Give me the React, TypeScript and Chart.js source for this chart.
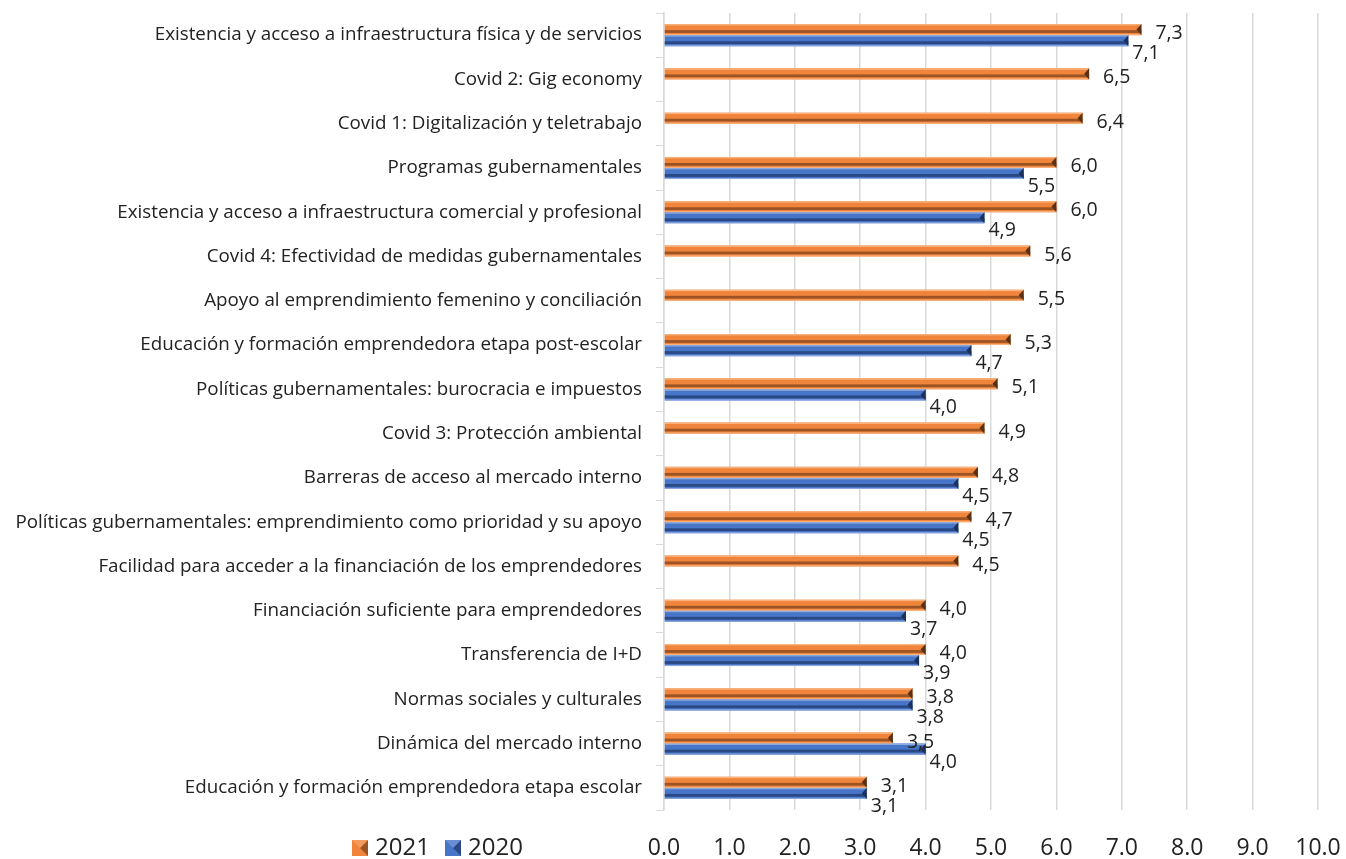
import React, { useEffect, useRef } from "react";
import { Chart, registerables } from "chart.js";

Chart.register(...registerables);

const categories = [
  "Existencia y acceso a infraestructura física y de servicios",
  "Covid 2: Gig economy",
  "Covid 1: Digitalización y teletrabajo",
  "Programas gubernamentales",
  "Existencia y acceso a infraestructura comercial y profesional",
  "Covid 4: Efectividad de medidas gubernamentales",
  "Apoyo al emprendimiento femenino y conciliación",
  "Educación y formación emprendedora etapa post-escolar",
  "Políticas gubernamentales: burocracia e impuestos",
  "Covid 3: Protección ambiental",
  "Barreras de acceso al mercado interno",
  "Políticas gubernamentales: emprendimiento como prioridad y su apoyo",
  "Facilidad para acceder a la financiación de los emprendedores",
  "Financiación suficiente para emprendedores",
  "Transferencia de I+D",
  "Normas sociales y culturales",
  "Dinámica del mercado interno",
  "Educación y formación emprendedora etapa escolar",
];

const values2021 = [7.3, 6.5, 6.4, 6.0, 6.0, 5.6, 5.5, 5.3, 5.1, 4.9, 4.8, 4.7, 4.5, 4.0, 4.0, 3.8, 3.5, 3.1];
const values2020 = [7.1, null, null, 5.5, 4.9, null, null, 4.7, 4.0, null, 4.5, 4.5, null, 3.7, 3.9, 3.8, 4.0, 3.1];

const seriesNames = ["2021", "2020"];
const xMin = 0;
const xMax = 10;
const xStep = 1;

const FONT = "'Open Sans', 'Noto Sans', sans-serif";

const palettes = [
  { base: "#F0843A", light: "#F7B27E", dark: "#9C5424", cap: "#5A3114" },
  { base: "#4775C8", light: "#8DA8DA", dark: "#2A4884", cap: "#1B305C" },
];

const shadePlugin = {
  id: "shade3d",
  afterDatasetsDraw(chart: any) {
    const ctx = chart.ctx;
    chart.data.datasets.forEach((ds: any, di: number) => {
      const meta = chart.getDatasetMeta(di);
      const pal = palettes[di];
      meta.data.forEach((el: any, i: number) => {
        const v = ds.data[i];
        if (v == null) return;
        const { x, y, base, height } = el.getProps(["x", "y", "base", "height"], true);
        const l = Math.min(x, base);
        const r = Math.max(x, base);
        const t = y - height / 2;
        const h = height;
        ctx.save();
        const bands: [number, number, string][] = [
          [0, 0.13, pal.light],
          [0.55, 0.8, pal.dark],
          [0.9, 1, pal.light],
        ];
        bands.forEach(([a, b, c]) => {
          ctx.fillStyle = c;
          ctx.fillRect(l, t + a * h, r - l, (b - a) * h);
        });
        ctx.fillStyle = pal.cap;
        ctx.beginPath();
        ctx.moveTo(r, t);
        ctx.lineTo(r - 5, y);
        ctx.lineTo(r, t + h);
        ctx.closePath();
        ctx.fill();
        ctx.restore();
      });
    });

    // data labels
    const xs = chart.scales.x;
    ctx.save();
    ctx.font = `19.5px ${FONT}`;
    ctx.fillStyle = "#222";
    ctx.textBaseline = "middle";
    ctx.textAlign = "left";
    chart.data.datasets.forEach((ds: any, di: number) => {
      const meta = chart.getDatasetMeta(di);
      meta.data.forEach((el: any, i: number) => {
        const v = ds.data[i];
        if (v == null) return;
        const { y } = el.getProps(["y"], true);
        const end = xs.getPixelForValue(v);
        const txt = v.toFixed(1).replace(".", ",");
        if (di === 0) ctx.fillText(txt, end + 14, y + 4);
        else ctx.fillText(txt, end + 4, y + 13);
      });
    });
    ctx.restore();
  },
};

const legendPlugin = {
  id: "customLegend",
  afterDraw(chart: any) {
    const ctx = chart.ctx;
    const positions = [352, 445];
    const yTop = 840;
    const s = 16;
    ctx.save();
    chart.data.datasets.forEach((ds: any, di: number) => {
      const pal = palettes[di];
      const x0 = positions[di];
      ctx.fillStyle = pal.base;
      ctx.fillRect(x0, yTop, s, s);
      ctx.fillStyle = pal.dark;
      ctx.beginPath();
      ctx.moveTo(x0 + s, yTop);
      ctx.lineTo(x0 + s / 2, yTop + s / 2);
      ctx.lineTo(x0 + s, yTop + s);
      ctx.closePath();
      ctx.fill();
      ctx.fillStyle = pal.light;
      ctx.beginPath();
      ctx.moveTo(x0, yTop);
      ctx.lineTo(x0 + s, yTop);
      ctx.lineTo(x0 + s / 2, yTop + s / 2);
      ctx.closePath();
      ctx.globalAlpha = 0.5;
      ctx.fill();
      ctx.globalAlpha = 1;
      ctx.font = `24px ${FONT}`;
      ctx.fillStyle = "#222";
      ctx.textBaseline = "middle";
      ctx.textAlign = "left";
      ctx.fillText(ds.label, x0 + s + 7, yTop + s / 2);
    });
    ctx.restore();
  },
};

export default function App() {
  const ref = useRef<HTMLCanvasElement | null>(null);
  useEffect(() => {
    if (!ref.current) return;
    const chart = new Chart(ref.current, {
      type: "bar",
      data: {
        labels: categories,
        datasets: [
          {
            label: seriesNames[0],
            data: values2021,
            backgroundColor: palettes[0].base,
            categoryPercentage: 0.5,
            barPercentage: 1,
          },
          {
            label: seriesNames[1],
            data: values2020,
            backgroundColor: palettes[1].base,
            categoryPercentage: 0.5,
            barPercentage: 1,
          },
        ] as any,
      },
      options: {
        indexAxis: "y",
        responsive: false,
        animation: false,
        layout: { padding: { top: 13, right: 28, left: 0, bottom: 0 } },
        plugins: {
          legend: { display: false },
          tooltip: { enabled: false },
        },
        scales: {
          x: {
            type: "linear",
            min: xMin,
            max: xMax,
            ticks: {
              stepSize: xStep,
              padding: 25,
              font: { family: FONT, size: 23 },
              color: "#222",
              callback: (v: any) => Number(v).toFixed(1),
            },
            grid: { color: "#d9d9d9", lineWidth: 1.5, drawTicks: false },
            border: { display: false },
            afterFit: (scale: any) => {
              scale.height = 49;
              scale.paddingLeft = 0;
              scale.paddingRight = 0;
            },
          },
          y: {
            type: "category",
            offset: true,
            ticks: {
              padding: 14,
              font: { family: FONT, size: 18.8 },
              color: "#222",
              autoSkip: false,
            },
            grid: {
              drawOnChartArea: false,
              drawTicks: true,
              tickLength: 8,
              color: "#d9d9d9",
              offset: true,
            },
            border: { display: true, color: "#d9d9d9", width: 1.5 },
            afterFit: (scale: any) => {
              scale.width = 664;
              scale.paddingTop = 0;
              scale.paddingBottom = 0;
            },
          },
        },
      } as any,
      plugins: [shadePlugin, legendPlugin],
    });
    return () => chart.destroy();
  }, []);
  return (
    <div style={{ position: "fixed", left: 0, top: 0, width: 1346, height: 859, background: "#fff" }}>
      <canvas ref={ref} width={1346} height={859} style={{ display: "block" }} />
    </div>
  );
}
